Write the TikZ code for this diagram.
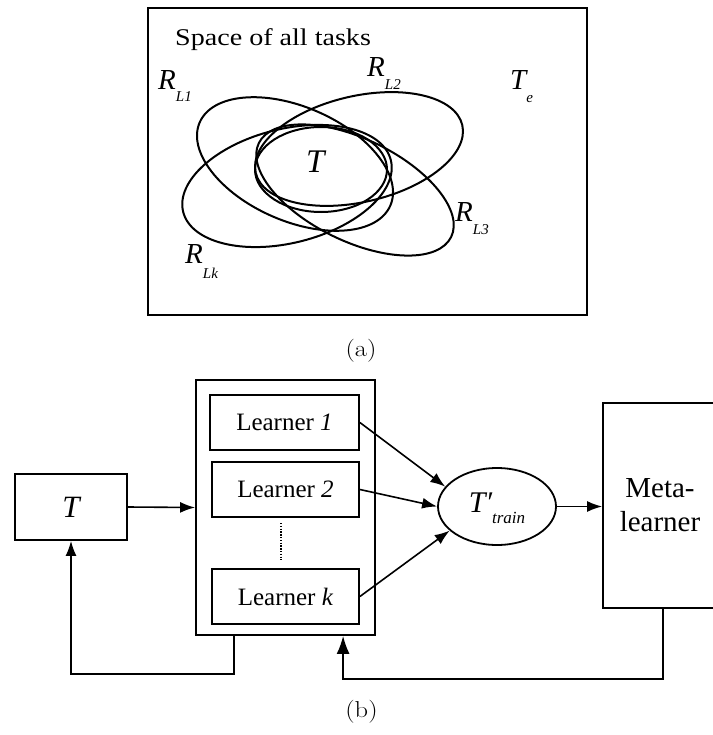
\documentclass[tikz,border=0pt]{standalone}
\usepackage{fontspec}
\newfontfamily\tnr{Liberation Serif}
\usetikzlibrary{arrows.meta,shapes.geometric,calc}

\newcommand\fsz[1]{\fontsize{#1}{#1}\selectfont}
% letter with a lowered subscript: #1 letter, #2 subscript, #3 drop in pt
\newcommand\sublab[3]{{\fsz{29}\itshape #1}\raisebox{-#3pt}{\fsz{15}\itshape #2}}

\begin{document}
\begin{tikzpicture}[x=1pt,y=-1pt,
  region/.style={line width=2pt},
  frame/.style={draw, line width=2pt, inner sep=0pt},
  blk/.style={draw, line width=1.8pt, rectangle, inner sep=0pt, font=\tnr\fsz{25}},
  link/.style={line width=1.6pt, -{Latex[length=15pt,width=11pt]}},
  lbl/.style={inner sep=0pt, anchor=base west, font=\tnr},
  subcaption/.style={font=\fsz{23}},
]
\useasboundingbox (0,0) rectangle (712,735);

% ---------- (a) space of tasks ----------
\node[frame, minimum width=439pt, minimum height=307pt] (space) at (367.5,161.5) {};
\node[lbl, font=\tnr\fsz{24}] (title) at (175,46) {\scalebox{1.17}[1]{Space of all tasks}};

\draw[region] (321,169.5) ellipse [x radius=66, y radius=42.5];
\draw[region, rotate around={13:(359,149)}] (359,149) ellipse [x radius=106, y radius=53];
\draw[region, rotate around={14:(287,186)}] (287,186) ellipse [x radius=107, y radius=57];
\draw[region, rotate around={-23.6:(295,164)}] (295,164) ellipse [x radius=104, y radius=57];
\draw[region, rotate around={-26:(355,190)}] (355,190) ellipse [x radius=107, y radius=51];

\node[lbl] (rl1) at (158,90) {\sublab{R}{L1}{12}};
\node[lbl] (rl2) at (367,77) {\sublab{R}{L2}{13}};
\node[lbl] (te) at (510,90) {\sublab{T}{e}{13}};
\node[lbl] (rl3) at (455,222) {\sublab{R}{L3}{13}};
\node[lbl] (rlk) at (185,263) {\sublab{R}{Lk}{15}};
\node[lbl, font=\tnr\itshape\fsz{33}] (tc) at (306,173) {T};

\node[subcaption] (capa) at (361,351) {\scalebox{1.15}[1]{(a)}};

% ---------- (b) learning loop ----------
\node[blk, minimum width=112pt, minimum height=66pt, font=\tnr\itshape\fsz{31}] (task) at (71,507) {T};
\node[blk, minimum width=179pt, minimum height=255pt] (pool) at (285.5,507.5) {};
\node[blk, minimum width=149pt, minimum height=55pt] (l1) at (284.5,422.5) {Learner \textit{1}};
\node[blk, minimum width=147pt, minimum height=55pt] (l2) at (285.5,489.5) {Learner \textit{2}};
\node[blk, minimum width=147pt, minimum height=55pt] (lk) at (285.5,596.5) {Learner \textit{k}};
\coordinate (dtop) at (281,523);
\coordinate (dbot) at (281,560);
\draw[line width=1.4pt, dash pattern=on 1.4pt off 1.4pt] (dtop) -- (dbot);

\node[draw, ellipse, line width=1.8pt, minimum width=118pt, minimum height=77pt, inner sep=0pt,
      text height=20pt, text depth=9pt, font=\tnr\itshape] (tr) at (497,506.5)
      {{\fsz{30}T′}\raisebox{-11pt}{\fsz{17}train}};

\node[blk, minimum width=114pt, minimum height=205pt, align=center,
      font=\tnr\fontsize{29}{34}\selectfont] (meta) at (660,505.5) {Meta-\\learner};

\draw[link] (task.east) -- (pool.west);
\draw[link] (l1.east) -- (tr.159);
\draw[link] (l2.east) -- (tr.west);
\draw[link] (lk.east) -- (tr.207);
\draw[link] (tr.east) -- (tr.east -| meta.west);
\draw[link] ([xshift=39pt]pool.south west) -- ++(0,38) -| (task.south);
\draw[line width=1.6pt, -{Latex[length=18pt,width=13pt]}] ([xshift=3pt]meta.south) -- ++(0,70)
      -| ([xshift=148pt]pool.south west);

\node[subcaption] (capb) at (361.5,712) {\scalebox{1.15}[1]{(b)}};
\end{tikzpicture}
\end{document}
